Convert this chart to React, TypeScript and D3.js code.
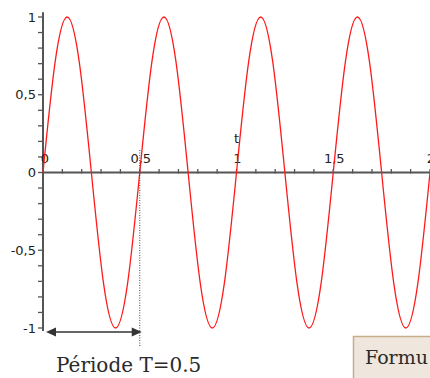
import React from 'react';
import * as d3 from 'd3';

// samples (t, y)
const tValues = [
  0, 0.0625, 0.125, 0.1875, 0.25, 0.3125, 0.375, 0.4375,
  0.5, 0.5625, 0.625, 0.6875, 0.75, 0.8125, 0.875, 0.9375,
  1, 1.0625, 1.125, 1.1875, 1.25, 1.3125, 1.375, 1.4375,
  1.5, 1.5625, 1.625, 1.6875, 1.75, 1.8125, 1.875, 1.9375, 2,
];
const yValues = [
  0, 0.71, 1, 0.71, 0, -0.71, -1, -0.71,
  0, 0.71, 1, 0.71, 0, -0.71, -1, -0.71,
  0, 0.71, 1, 0.71, 0, -0.71, -1, -0.71,
  0, 0.71, 1, 0.71, 0, -0.71, -1, -0.71, 0,
];
const xTickValues = [0, 0.5, 1, 1.5, 2];
const xTickLabels = ['0', '0,5', '1', '1,5', '2'];
const yTickValues = [1, 0.5, 0, -0.5, -1];
const yTickLabels = ['1', '0,5', '0', '-0,5', '-1'];
const period = 0.5;

const W = 430;
const H = 378;

const App = () => {
  const x = d3.scaleLinear().domain([0, 2]).range([43, 430]);
  const y = d3.scaleLinear().domain([-1, 1]).range([328, 17]);

  const pts = tValues.map((t, i) => [t, yValues[i]] as [number, number]);
  const line = d3.line<[number, number]>()
    .x(d => x(d[0]))
    .y(d => y(d[1]))
    .curve(d3.curveNatural);

  const y0 = y(0);
  const axisColor = '#555';
  const labelFont = 'DejaVu Sans, sans-serif';
  const arrowY = 332;
  const ax0 = x(0) + 3;
  const ax1 = x(period) + 2;

  return (
    <svg width={W} height={H} style={{ position: 'absolute', left: 0, top: 0, display: 'block' }}>
      <rect width={W} height={H} fill="#fff" />

      {/* minor ticks */}
      {x.ticks(20).map(v => (
        <line key={'xt' + v} x1={x(v)} x2={x(v)} y1={y0 - 3.5} y2={y0 + 1} stroke={axisColor} strokeWidth={1.3} />
      ))}
      {y.ticks(20).map(v => (
        <line key={'yt' + v} x1={x(0) - 5} x2={x(0)} y1={y(v)} y2={y(v)} stroke={axisColor} strokeWidth={1.3} />
      ))}

      {/* axes */}
      <line x1={x(0)} x2={x(2)} y1={y0} y2={y0} stroke={axisColor} strokeWidth={2} />
      <line x1={x(0)} x2={x(0)} y1={y(1.03)} y2={y(-1.02)} stroke={axisColor} strokeWidth={2} />

      {xTickValues.map((v, i) => (
        <text key={'xl' + v} x={x(v) + (i === 0 ? 2 : 1)} y={163} textAnchor="middle"
          fontFamily={labelFont} fontSize={13} fill="#222">{xTickLabels[i]}</text>
      ))}
      {yTickValues.map((v, i) => (
        <text key={'yl' + v} x={36} y={y(v)} dy="0.36em" textAnchor="end"
          fontFamily={labelFont} fontSize={13} fill="#222">{yTickLabels[i]}</text>
      ))}
      <text x={x(1)} y={143} textAnchor="middle" fontFamily={labelFont} fontSize={13} fill="#222">t</text>

      <path d={line(pts) ?? ''} fill="none" stroke="#ff1a1a" strokeWidth={1.3} />

      {/* period marker */}
      <line x1={x(period)} x2={x(period)} y1={150} y2={346} stroke="#444" strokeWidth={1} strokeDasharray="1,1.5" />
      <line x1={ax0 + 6} x2={ax1 - 6} y1={arrowY} y2={arrowY} stroke="#333" strokeWidth={1.6} />
      <path d={`M${ax0},${arrowY} L${ax0 + 10},${arrowY - 4.5} L${ax0 + 10},${arrowY + 4.5} Z`} fill="#333" />
      <path d={`M${ax1},${arrowY} L${ax1 - 10},${arrowY - 4.5} L${ax1 - 10},${arrowY + 4.5} Z`} fill="#333" />
      <text x={56} y={372} fontFamily="DejaVu Serif, serif" fontSize={20} fill="#2b2b2b">Période T=0.5</text>

      <rect x={353.5} y={336.5} width={100} height={60} fill="#efe7de" stroke="#c8ad8a" strokeWidth={1.5} />
      <text x={365} y={364} fontFamily="DejaVu Serif, serif" fontSize={19} fill="#2b2b2b">Formu</text>
    </svg>
  );
};

export default App;
